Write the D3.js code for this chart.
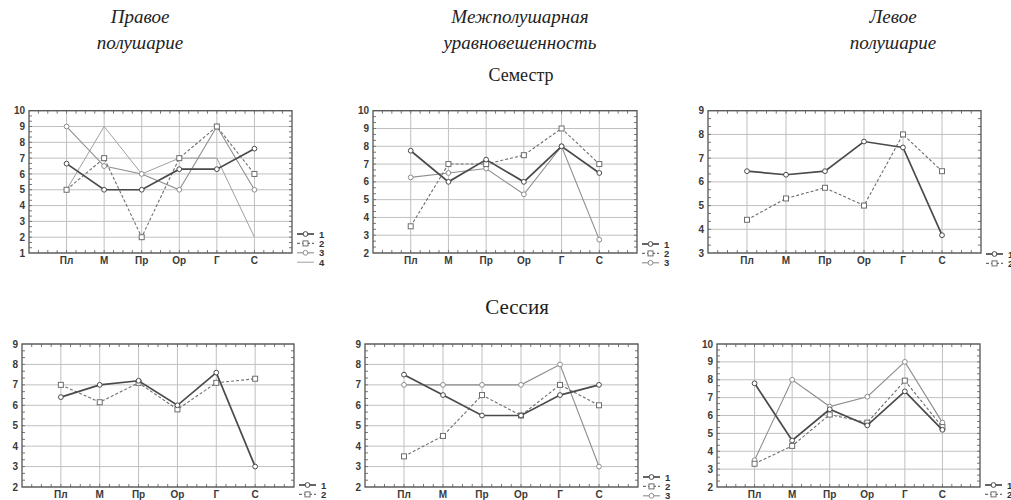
<!DOCTYPE html>
<meta charset="utf-8">
<style>
  body { margin: 0; background: #fff; }
  text.head {
    font-family: 'Liberation Serif', 'DejaVu Serif', serif;
    font-style: italic;
    font-size: 19px;
    fill: #222;
    text-anchor: middle;
  }
  text.section {
    font-family: 'Liberation Serif', 'DejaVu Serif', serif;
    fill: #222;
    text-anchor: middle;
  }
  text.tick {
    font-family: 'Liberation Sans', Arial, sans-serif;
    font-weight: bold;
    font-size: 10px;
    fill: #3a3a3a;
  }
  text.leg {
    font-family: 'Liberation Sans', Arial, sans-serif;
    font-weight: bold;
    font-size: 9.5px;
    fill: #333;
  }
</style>
<script src="https://cdn.jsdelivr.net/npm/d3@7"></script>
<div id="chart"></div>
<script>

// categories on the x axis
var categories = ["Пл", "М", "Пр", "Ор", "Г", "С"];

// Семестр – правое полушарие
var semRight1 = [6.65, 5, 5, 6.3, 6.3, 7.6];
var semRight2 = [5, 7, 2, 7, 9, 6];
var semRight3 = [9, 6.5, 6, 5, 9, 5];
var semRight4 = [5, 9, 6, 7, 7, 2];

// Семестр – межполушарная уравновешенность
var semMid1 = [7.75, 6, 7.25, 6, 8, 6.5];
var semMid2 = [3.5, 7, 7, 7.5, 9, 7];
var semMid3 = [6.25, 6.5, 6.75, 5.3, 8, 2.75];

// Семестр – левое полушарие
var semLeft1 = [6.45, 6.3, 6.45, 7.7, 7.45, 3.75];
var semLeft2 = [4.4, 5.3, 5.75, 5, 8, 6.45];

// Сессия – правое полушарие
var sesRight1 = [6.4, 7, 7.2, 6, 7.6, 3];
var sesRight2 = [7, 6.15, 7.1, 5.8, 7.1, 7.3];

// Сессия – межполушарная уравновешенность
var sesMid1 = [7.5, 6.5, 5.5, 5.5, 6.5, 7];
var sesMid2 = [3.5, 4.5, 6.5, 5.5, 7, 6];
var sesMid3 = [7, 7, 7, 7, 8, 3];

// Сессия – левое полушарие
var sesLeft1 = [7.8, 4.6, 6.35, 5.45, 7.35, 5.2];
var sesLeft2 = [3.3, 4.3, 6.05, 5.6, 7.95, 5.35];
var sesLeft3 = [3.5, 8, 6.5, 7.05, 9, 5.6];

var legendLabels = ["1", "2", "3", "4"];

// column headings
var headings = [["Правое", "полушарие"], ["Межполушарная", "уравновешенность"], ["Левое", "полушарие"]];

var panels = [
  {x0: 29,  x1: 292, y0: 110.7, y1: 253, dom: [1, 10], series: [semRight1, semRight2, semRight3, semRight4], legY: 234},
  {x0: 373, x1: 637, y0: 110.7, y1: 253, dom: [2, 10], series: [semMid1, semMid2, semMid3], legY: 244},
  {x0: 708, x1: 981, y0: 110.7, y1: 253, dom: [3, 9],  series: [semLeft1, semLeft2], legY: 254},
  {x0: 22,  x1: 294, y0: 344,   y1: 487, dom: [2, 9],  series: [sesRight1, sesRight2], legY: 485},
  {x0: 365, x1: 638, y0: 344,   y1: 487, dom: [2, 9],  series: [sesMid1, sesMid2, sesMid3], legY: 477},
  {x0: 717, x1: 980, y0: 344,   y1: 487, dom: [2, 10], series: [sesLeft1, sesLeft2, sesLeft3], legY: 485}
];

// line look for series 1..4
var styles = [
  {stroke: "#4a4a4a", width: 1.7, dash: null,  mark: "circle"},
  {stroke: "#6e6e6e", width: 1.1, dash: "3,2", mark: "square"},
  {stroke: "#8e8e8e", width: 1.1, dash: null,  mark: "circle"},
  {stroke: "#a0a0a0", width: 1.0, dash: null,  mark: "none"}
];

var svg = d3.select("#chart").append("svg")
  .attr("width", 1011)
  .attr("height", 500);

svg.append("rect").attr("width", 1011).attr("height", 500).attr("fill", "#fff");

// headings
var headX = [140, 520, 893];
headings.forEach(function(h, i) {
  svg.append("text").attr("class", "head").attr("x", headX[i]).attr("y", 23).text(h[0]);
  svg.append("text").attr("class", "head").attr("x", headX[i]).attr("y", 49).text(h[1]);
});
svg.append("text").attr("class", "section").attr("x", 521).attr("y", 81)
  .style("font-size", "18px").text("Семестр");
svg.append("text").attr("class", "section").attr("x", 517).attr("y", 314)
  .style("font-size", "21px").text("Сессия");

function marker(g, type, cx, cy, st) {
  if (type == "circle") {
    g.append("circle").attr("cx", cx).attr("cy", cy).attr("r", 2.4)
      .attr("fill", "#fff").attr("stroke", st.stroke).attr("stroke-width", 1);
  } else if (type == "square") {
    g.append("rect").attr("x", cx - 2.5).attr("y", cy - 2.5).attr("width", 5).attr("height", 5)
      .attr("fill", "#fff").attr("stroke", st.stroke).attr("stroke-width", 1);
  }
}

panels.forEach(function(p) {
  var g = svg.append("g");

  var x = d3.scalePoint().domain(categories).range([p.x0, p.x1]).padding(1);
  var y = d3.scaleLinear().domain(p.dom).range([p.y1, p.y0]);
  var yTicks = d3.range(p.dom[0], p.dom[1] + 1);

  // grid
  g.selectAll(".hg").data(yTicks).enter().append("line")
    .attr("x1", p.x0).attr("x2", p.x1)
    .attr("y1", function(d) { return y(d); }).attr("y2", function(d) { return y(d); })
    .attr("stroke", "#c0c0c0").attr("stroke-width", 1);
  g.selectAll(".vg").data(categories).enter().append("line")
    .attr("x1", function(d) { return x(d); }).attr("x2", function(d) { return x(d); })
    .attr("y1", p.y0).attr("y2", p.y1)
    .attr("stroke", "#c0c0c0").attr("stroke-width", 1);

  // minor ticks along the frame
  var stepX = x.step() / 4;
  var minorX = d3.range(p.x0 + stepX, p.x1 - 0.5, stepX);
  var stepY = (y(p.dom[0]) - y(p.dom[0] + 1)) / 3;
  var minorY = d3.range(p.y1 - stepY, p.y0 + 0.5, -stepY);
  minorX.forEach(function(mx) {
    g.append("line").attr("x1", mx).attr("x2", mx).attr("y1", p.y0).attr("y2", p.y0 + 3).attr("stroke", "#777");
    g.append("line").attr("x1", mx).attr("x2", mx).attr("y1", p.y1).attr("y2", p.y1 - 3).attr("stroke", "#777");
  });
  minorY.forEach(function(my) {
    g.append("line").attr("x1", p.x0).attr("x2", p.x0 + 3).attr("y1", my).attr("y2", my).attr("stroke", "#777");
    g.append("line").attr("x1", p.x1).attr("x2", p.x1 - 3).attr("y1", my).attr("y2", my).attr("stroke", "#777");
  });

  // frame
  g.append("rect").attr("x", p.x0).attr("y", p.y0)
    .attr("width", p.x1 - p.x0).attr("height", p.y1 - p.y0)
    .attr("fill", "none").attr("stroke", "#555").attr("stroke-width", 1.3);

  // axis labels
  g.selectAll(".yl").data(yTicks).enter().append("text")
    .attr("class", "tick")
    .attr("x", p.x0 - 4).attr("y", function(d) { return y(d) + 3.6; })
    .attr("text-anchor", "end")
    .text(function(d) { return d; });
  g.selectAll(".xl").data(categories).enter().append("text")
    .attr("class", "tick")
    .attr("x", function(d) { return x(d); }).attr("y", p.y1 + 10.5)
    .attr("text-anchor", "middle")
    .text(function(d) { return d; });

  var line = d3.line()
    .x(function(d, i) { return x(categories[i]); })
    .y(function(d) { return y(d); });

  // series, drawn last-first so series 1 stays on top
  for (var s = p.series.length - 1; s >= 0; s--) {
    var st = styles[s];
    g.append("path").datum(p.series[s])
      .attr("d", line)
      .attr("fill", "none")
      .attr("stroke", st.stroke)
      .attr("stroke-width", st.width)
      .attr("stroke-dasharray", st.dash);
    p.series[s].forEach(function(v, i) {
      marker(g, st.mark, x(categories[i]), y(v), st);
    });
  }

  // legend
  p.series.forEach(function(ser, s) {
    var st = styles[s];
    var ly = p.legY + s * 9.4;
    g.append("line").attr("x1", p.x1 + 5).attr("x2", p.x1 + 22)
      .attr("y1", ly).attr("y2", ly)
      .attr("stroke", st.stroke).attr("stroke-width", st.width)
      .attr("stroke-dasharray", st.dash);
    marker(g, st.mark, p.x1 + 13.5, ly, st);
    g.append("text").attr("class", "leg")
      .attr("x", p.x1 + 27).attr("y", ly + 3.5)
      .text(legendLabels[s]);
  });
});

</script>
